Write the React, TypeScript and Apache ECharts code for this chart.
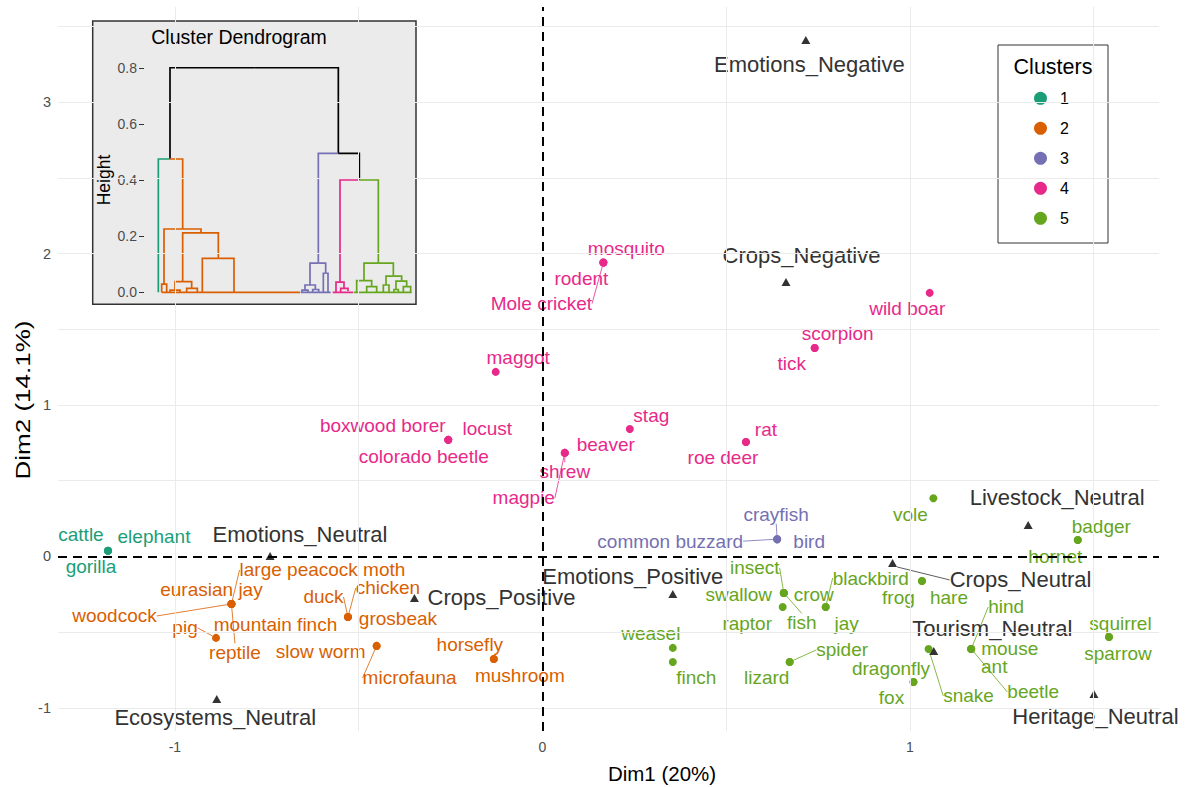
import React, { useEffect, useRef } from "react";
import * as echarts from "echarts";

const FONT = "'Liberation Sans', Arial, Helvetica, sans-serif";

// ---------- palette / cluster names ----------
const clusterColors = ["#000000", "#1B9E77", "#D95F02", "#7570B3", "#E7298A", "#66A61E"];
const clusterNames = ["1", "2", "3", "4", "5"];

// ---------- individuals (Dim1, Dim2) ----------
const c1Names = ["cattle", "elephant", "gorilla"];
const c1X = [-1.182, -1.182, -1.182];
const c1Y = [0.038, 0.038, 0.038];

const c2Names = ["large peacock moth", "eurasian jay", "woodcock", "mountain finch", "reptile", "pig", "duck", "chicken", "grosbeak", "slow worm", "microfauna", "horsefly", "mushroom"];
const c2X = [-0.846, -0.846, -0.846, -0.846, -0.846, -0.888, -0.529, -0.529, -0.529, -0.451, -0.451, -0.132, -0.132];
const c2Y = [-0.314, -0.314, -0.314, -0.314, -0.314, -0.538, -0.4, -0.4, -0.4, -0.591, -0.591, -0.677, -0.677];

const c3Names = ["crayfish", "common buzzard", "bird"];
const c3X = [0.639, 0.639, 0.639];
const c3Y = [0.114, 0.114, 0.114];

const c4Names = ["mosquito", "rodent", "Mole cricket", "wild boar", "scorpion", "tick", "maggot", "boxwood borer", "locust", "colorado beetle", "stag", "beaver", "shrew", "magpie", "rat", "roe deer"];
const c4X = [0.166, 0.166, 0.166, 1.054, 0.741, 0.741, -0.127, -0.256, -0.256, -0.256, 0.238, 0.061, 0.061, 0.061, 0.554, 0.554];
const c4Y = [1.941, 1.941, 1.941, 1.741, 1.377, 1.377, 1.219, 0.77, 0.77, 0.77, 0.842, 0.684, 0.684, 0.684, 0.756, 0.756];

const c5Names = ["vole", "badger", "hornet", "frog", "hare", "insect", "swallow", "crow", "fish", "raptor", "jay", "blackbird", "weasel", "finch", "lizard", "spider", "dragonfly", "fox", "snake", "hind", "mouse", "ant", "beetle", "squirrel", "sparrow"];
const c5X = [1.064, 1.457, 1.457, 1.033, 1.033, 0.657, 0.657, 0.657, 0.657, 0.654, 0.771, 0.771, 0.355, 0.355, 0.673, 0.673, 1.01, 1.01, 1.051, 1.167, 1.167, 1.167, 1.167, 1.542, 1.542];
const c5Y = [0.384, 0.109, 0.109, -0.162, -0.162, -0.241, -0.241, -0.241, -0.241, -0.334, -0.334, -0.334, -0.604, -0.697, -0.697, -0.697, -0.829, -0.829, -0.611, -0.611, -0.611, -0.611, -0.611, -0.532, -0.532];

// ---------- supplementary categories ----------
const supNames = ["Emotions_Negative", "Crops_Negative", "Livestock_Neutral", "Crops_Neutral", "Tourism_Neutral", "Heritage_Neutral", "Emotions_Positive", "Emotions_Neutral", "Crops_Positive", "Ecosystems_Neutral"];
const supX = [0.717, 0.663, 1.322, 0.953, 1.065, 1.501, 0.355, -0.741, -0.348, -0.886];
const supY = [3.411, 1.813, 0.208, -0.043, -0.624, -0.908, -0.248, 0.003, -0.274, -0.941];

// ---------- axis ticks ----------
const xTicks = [-1, 0, 1];
const yTicks = [-1, 0, 1, 2, 3];
const xGrid = [-1, -0.5, 0.5, 1, 1.5];
const yGrid = [-1, -0.5, 0.5, 1, 1.5, 2, 2.5, 3, 3.5];
const dendroTicks = [0, 0.2, 0.4, 0.6, 0.8];

// ---------- dendrogram links: [parentPos, parentHeight, childPos, childHeight, cluster] ----------
const dendroLinks: number[][] = [
  [492.5, 0.802, 240, 0.476, 0], [492.5, 0.802, 745, 0.496, 0],
  [240, 0.476, 205, 0, 1], [240, 0.476, 278, 0.226, 2],
  [278, 0.226, 222, 0.029, 2], [278, 0.226, 333, 0.212, 2],
  [333, 0.212, 278, 0.038, 2], [333, 0.212, 385, 0.121, 2],
  [385, 0.121, 337, 0, 2], [385, 0.121, 432, 0, 2],
  [222, 0.029, 215, 0, 2], [222, 0.029, 230, 0, 2],
  [278, 0.038, 255, 0.008, 2], [278, 0.038, 305, 0.014, 2],
  [255, 0.008, 240, 0, 2], [255, 0.008, 270, 0, 2],
  [305, 0.014, 290, 0, 2], [305, 0.014, 322, 0, 2],
  [215, 0, 630, 0, 2],
  [745, 0.496, 685, 0.104, 3], [745, 0.496, 808, 0.401, 0],
  [685, 0.104, 660, 0.026, 3], [685, 0.104, 707, 0.068, 3],
  [707, 0.068, 700, 0, 3], [707, 0.068, 714, 0, 3],
  [660, 0.026, 645, 0.008, 3], [660, 0.026, 676, 0.01, 3],
  [645, 0.008, 636, 0, 3], [645, 0.008, 654, 0, 3],
  [676, 0.01, 668, 0, 3], [676, 0.01, 686, 0, 3],
  [632, 0, 722, 0, 3],
  [808, 0.401, 750, 0.036, 4], [808, 0.401, 865, 0.104, 5],
  [750, 0.036, 738, 0, 4], [750, 0.036, 762, 0.014, 4],
  [762, 0.014, 752, 0, 4], [762, 0.014, 774, 0.005, 4],
  [728, 0, 790, 0, 4],
  [865, 0.104, 822, 0.042, 5], [865, 0.104, 910, 0.058, 5],
  [822, 0.042, 800, 0, 5], [822, 0.042, 845, 0.02, 5],
  [845, 0.02, 830, 0, 5], [845, 0.02, 860, 0, 5],
  [910, 0.058, 888, 0.026, 5], [910, 0.058, 935, 0.04, 5],
  [888, 0.026, 880, 0, 5], [888, 0.026, 897, 0, 5],
  [935, 0.04, 918, 0.01, 5], [935, 0.04, 950, 0.02, 5],
  [918, 0.01, 912, 0, 5], [918, 0.01, 925, 0, 5],
  [950, 0.02, 940, 0, 5], [950, 0.02, 962, 0, 5],
  [792, 0, 965, 0, 5],
];

// ---------- label layout (pixel offsets of label centre from its point) ----------
const labelOffsets: Record<string, [number, number]> = {
  cattle: [-27, -16], elephant: [46, -14], gorilla: [-17, 16],
  "large peacock moth": [91, -34], "eurasian jay": [-20, -14], woodcock: [-117, 12], "mountain finch": [44, 21], reptile: [3.5, 49],
  pig: [-31, -10], duck: [-24.5, -20], chicken: [40, -29], grosbeak: [50, 2], "slow worm": [-56, 6], microfauna: [33, 32],
  horsefly: [-24, -14], mushroom: [26, 17],
  crayfish: [-1, -25], "common buzzard": [-107, 2], bird: [32, 2],
  mosquito: [23, -14], rodent: [-22, 16], "Mole cricket": [-62, 41], "wild boar": [-22.5, 16], scorpion: [23, -14], tick: [-23, 16],
  maggot: [22.5, -14], "boxwood borer": [-65.5, -14], locust: [39, -11], "colorado beetle": [-24.5, 17], stag: [21.5, -13],
  beaver: [41, -8], shrew: [0, 19], magpie: [-41, 45], rat: [20, -12], "roe deer": [-23, 16],
  vole: [-23, 16], badger: [23.5, -13], hornet: [-22.5, 17], frog: [-23.5, 17], hare: [27, 17], insect: [-29, -25], swallow: [-45, 2],
  crow: [30, 2], fish: [18, 30], raptor: [-35.5, 16], jay: [21, 16], blackbird: [45, -29], weasel: [-22, -14], finch: [23.5, 16],
  lizard: [-23, 16], spider: [52.5, -12], dragonfly: [-22.5, -13], fox: [-22, 16], snake: [40, 47], hind: [35, -42], mouse: [38.5, 0],
  ant: [23, 18], beetle: [62, 43], squirrel: [11.5, -13], sparrow: [9, 17],
  Emotions_Negative: [3.5, 24], Crops_Negative: [15.5, -26], Livestock_Neutral: [29, -27], Crops_Neutral: [128, 17],
  Tourism_Neutral: [58.5, -22], Heritage_Neutral: [1.5, 23], Emotions_Positive: [-40, -17], Emotions_Neutral: [30, -21],
  Crops_Positive: [87, 0], Ecosystems_Neutral: [-1.5, 19],
};
const connectors = ["large peacock moth", "woodcock", "reptile", "pig", "duck", "chicken", "microfauna", "crayfish", "common buzzard", "Mole cricket", "shrew", "magpie", "insect", "fish", "blackbird", "spider", "snake", "hind", "beetle", "Crops_Neutral"];

function pointSeries(seriesName: string, names: string[], xs: number[], ys: number[], color: string, textColor: string, symbol: string, size: any, fontSize: number) {
  return {
    type: "scatter",
    name: seriesName,
    xAxisIndex: 0,
    yAxisIndex: 0,
    symbol,
    symbolSize: size,
    z: 3,
    silent: true,
    itemStyle: { color, opacity: 1 },
    emphasis: { disabled: true },
    data: names.map((n, i) => {
      const item: any = { name: n, value: [xs[i], ys[i]] };
      if (connectors.includes(n)) item.labelLine = { show: true, lineStyle: { color: textColor, width: 0.8, opacity: 1 } };
      return item;
    }),
    label: {
      show: true,
      position: ["50%", "50%"],
      align: "center",
      verticalAlign: "middle",
      formatter: "{b}",
      color: textColor,
      fontSize,
      fontFamily: FONT,
      textBorderWidth: 0,
      textBorderColor: "transparent",
      textShadowBlur: 0,
    },
    labelLine: { show: false },
    labelLayout: (p: any) => {
      const o = labelOffsets[names[p.dataIndex]] || [0, 0];
      return { dx: o[0], dy: o[1] };
    },
  };
}

function buildOption(): any {
  const gridLineData: any[] = [
    ...xGrid.map((v) => ({ xAxis: v })),
    ...yGrid.map((v) => ({ yAxis: v })),
    { xAxis: 0, lineStyle: { color: "#000000", width: 2, type: [9, 6] } },
    { yAxis: 0, lineStyle: { color: "#000000", width: 2, type: [9, 6] } },
  ];
  const indiv = [
    [c1Names, c1X, c1Y],
    [c2Names, c2X, c2Y],
    [c3Names, c3X, c3Y],
    [c4Names, c4X, c4Y],
    [c5Names, c5X, c5Y],
  ] as any[];

  return {
    animation: false,
    backgroundColor: "#ffffff",
    textStyle: { fontFamily: FONT },
    grid: [
      { left: 58, top: 7, width: 1101, height: 724, show: false },
      { left: 144, top: 60, width: 270, height: 240, show: false },
    ],
    xAxis: [
      {
        type: "value", gridIndex: 0, min: -1.318, max: 1.678,
        axisLine: { show: false },
        axisTick: { show: true, customValues: xTicks, length: 4, lineStyle: { color: "#333333", width: 1 } },
        axisLabel: { customValues: xTicks, color: "#4D4D4D", fontSize: 14, fontFamily: FONT, margin: 9 },
        splitLine: { show: false },
      },
      { type: "value", gridIndex: 1, min: 162, max: 972, show: false, splitLine: { show: false } },
    ],
    yAxis: [
      {
        type: "value", gridIndex: 0, min: -1.153, max: 3.629,
        axisLine: { show: false },
        axisTick: { show: true, customValues: yTicks, length: 4, lineStyle: { color: "#333333", width: 1 } },
        axisLabel: { customValues: yTicks, color: "#4D4D4D", fontSize: 14.5, fontFamily: FONT, margin: 7 },
        splitLine: { show: false },
      },
      {
        type: "value", gridIndex: 1, min: -0.0275, max: 0.8296, z: 4,
        name: "Height", nameLocation: "middle", nameGap: 31, nameRotate: 90,
        nameTextStyle: { color: "#000", fontSize: 17.5, fontFamily: FONT },
        axisLine: { show: false },
        axisTick: { show: true, customValues: dendroTicks, length: 5, lineStyle: { color: "#333333", width: 1 } },
        axisLabel: { customValues: dendroTicks, color: "#4D4D4D", fontSize: 14, fontFamily: FONT, margin: 7, formatter: (v: number) => v.toFixed(1) },
        splitLine: { show: false },
      },
    ],
    legend: {
      data: clusterNames,
      orient: "vertical",
      left: 1034,
      top: 90.3,
      itemWidth: 13,
      itemHeight: 13,
      itemGap: 14,
      icon: "circle",
      padding: 0,
      selectedMode: false,
      textStyle: { color: "#000", fontSize: 16, lineHeight: 16, fontFamily: FONT, padding: [0, 0, 0, 8] },
      z: 5,
    },
    graphic: [
      { type: "rect", z: 1, silent: true, shape: { x: 92.7, y: 21, width: 323.3, height: 283.3 }, style: { fill: "#EBEBEB", stroke: "#333333", lineWidth: 1.5 } },
      { type: "text", z: 4, silent: true, x: 239, y: 37, style: { text: "Cluster Dendrogram", fill: "#000", fontSize: 19.5, fontFamily: FONT, align: "center", verticalAlign: "middle" } },
      { type: "rect", z: 1, silent: true, shape: { x: 998, y: 45, width: 110, height: 198 }, style: { fill: "#ffffff", stroke: "#333333", lineWidth: 1 } },
      { type: "text", z: 4, silent: true, x: 1053, y: 67, style: { text: "Clusters", fill: "#000", fontSize: 21.5, fontFamily: FONT, align: "center", verticalAlign: "middle" } },
      { type: "text", z: 4, silent: true, x: 662, y: 773, style: { text: "Dim1 (20%)", fill: "#000", fontSize: 20.5, fontFamily: FONT, align: "center", verticalAlign: "middle" } },
      { type: "text", z: 4, silent: true, x: 23, y: 400, rotation: Math.PI / 2, scaleX: 1.3, style: { text: "Dim2 (14.1%)", fill: "#000", fontSize: 20, fontFamily: FONT, align: "center", verticalAlign: "middle" } },
    ],
    series: [
      {
        type: "scatter", name: "gridlines", xAxisIndex: 0, yAxisIndex: 0, data: [], z: 0, silent: true,
        markLine: {
          silent: true, symbol: ["none", "none"], animation: false,
          label: { show: false }, emphasis: { disabled: true },
          lineStyle: { color: "#EBEBEB", width: 1, type: "solid" },
          data: gridLineData,
        },
      },
      ...indiv.map((d, i) => pointSeries(clusterNames[i], d[0], d[1], d[2], clusterColors[i + 1], clusterColors[i + 1], "circle", 8, 19)),
      pointSeries("sup", supNames, supX, supY, "#333333", "#333333", "triangle", [9, 8], 22),
      {
        type: "lines", name: "dendrogram", coordinateSystem: "cartesian2d", xAxisIndex: 1, yAxisIndex: 1,
        polyline: true, silent: true, z: 3,
        lineStyle: { width: 1.7, opacity: 1 },
        data: dendroLinks.map(([px, ph, cx, ch, c]) => ({
          coords: [[px, ph], [cx, ph], [cx, ch]],
          lineStyle: { color: clusterColors[c], width: 1.7, opacity: 1 },
        })),
      },
    ],
  };
}

export default function App() {
  const ref = useRef<HTMLDivElement>(null);
  useEffect(() => {
    const chart = echarts.init(ref.current!, null, { renderer: "svg" });
    chart.setOption(buildOption());
    return () => chart.dispose();
  }, []);
  return (
    <div
      ref={ref}
      style={{ position: "fixed", left: 0, top: 0, width: 1189, height: 787, background: "#ffffff" }}
    />
  );
}
